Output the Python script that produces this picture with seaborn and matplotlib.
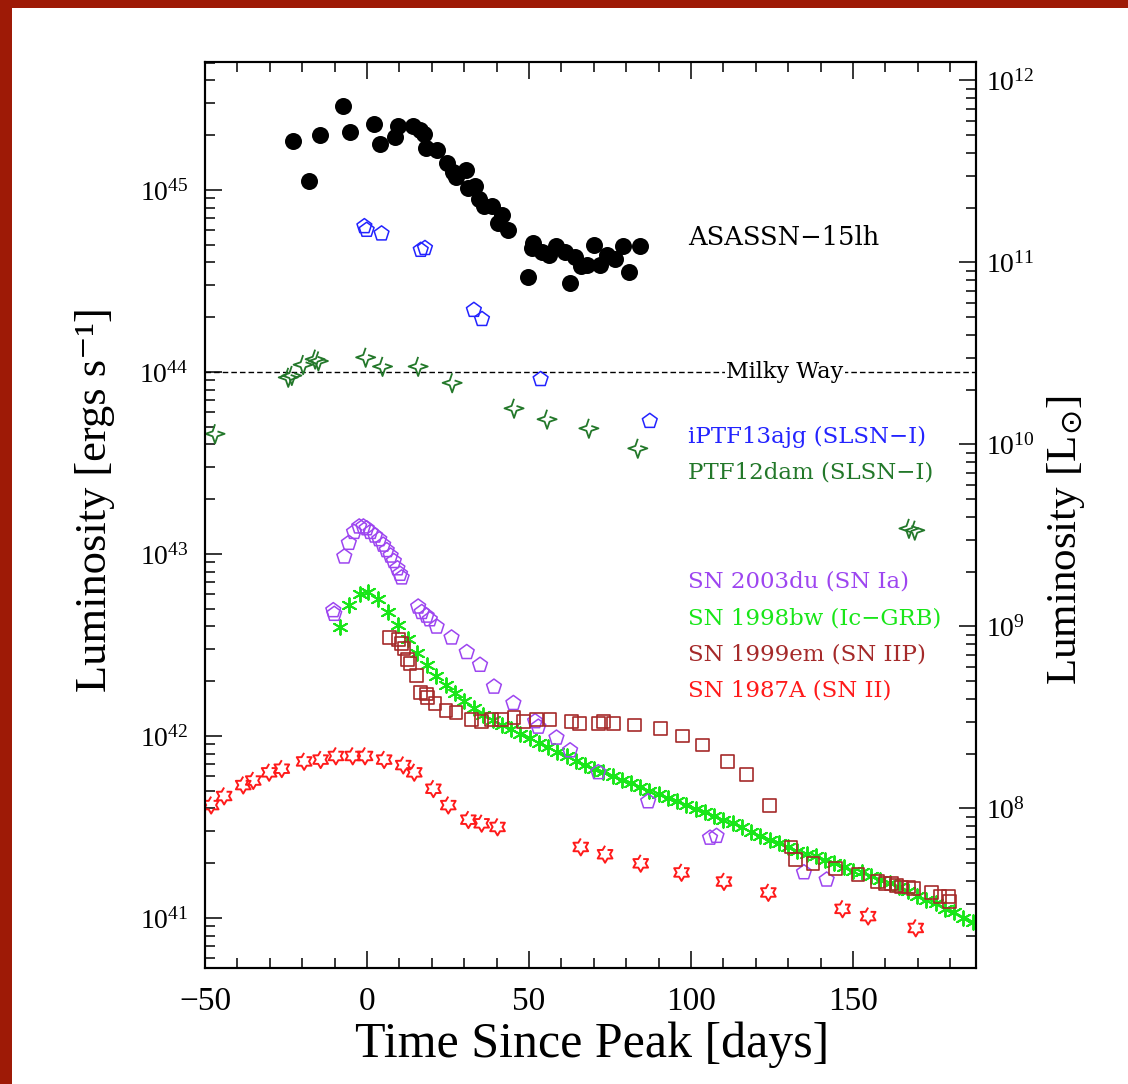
import numpy as np
import pandas as pd
import matplotlib
matplotlib.use("Agg")
import matplotlib.pyplot as plt
import seaborn as sns
from matplotlib.patches import Rectangle
from matplotlib.ticker import LogLocator, MultipleLocator, NullFormatter

# ---------------- data (time since peak [days], log10 L [erg/s]) ----------------
asassn_t = [-22.9, -17.8, -14.5, -7.5, -5.2, 2.1, 4.0, 8.7, 9.6, 14.3, 16.4, 17.5, 18.1,
            21.5, 24.8, 26.6, 27.5, 30.5, 31.1, 33.4, 34.5, 36.1, 38.6, 41.7, 40.5, 43.6,
            49.7, 51.3, 50.9, 53.9, 56.2, 58.2, 61.0, 62.7, 64.2, 66.0, 67.9, 70.1, 71.9,
            74.0, 76.5, 79.1, 81.0, 84.3]
asassn_logL = [45.27, 45.05, 45.30, 45.46, 45.32, 45.36, 45.25, 45.29, 45.35, 45.35, 45.33,
               45.31, 45.23, 45.22, 45.15, 45.10, 45.07, 45.11, 45.01, 45.02, 44.95, 44.91,
               44.91, 44.86, 44.82, 44.78, 44.52, 44.71, 44.68, 44.66, 44.64, 44.69, 44.66,
               44.49, 44.63, 44.58, 44.59, 44.70, 44.59, 44.64, 44.62, 44.69, 44.55, 44.69]

iptf_t = [-0.8, -0.1, 4.5, 16.6, 17.9, 33.0, 35.5, 53.6, 87.3]
iptf_logL = [44.80, 44.78, 44.76, 44.67, 44.68, 44.34, 44.29, 43.96, 43.73]

ptf_t = [-46.9, -24.3, -23.2, -19.7, -16.0, -15.0, -0.4, 4.8, 15.8, 26.3, 45.4, 55.6,
         68.5, 83.6, 167.3, 169.1]
ptf_logL = [43.66, 43.97, 43.98, 44.04, 44.07, 44.06, 44.08, 44.03, 44.03, 43.94, 43.80,
            43.74, 43.69, 43.58, 43.14, 43.13]

du_t = [-7.0, -5.6, -4.0, -2.4, -1.1, -0.1, 1.1, 2.5, 3.8, 5.0, 6.1, 7.3, 8.3, 9.4, 10.2,
        10.7, -10.4, -10.1, 15.8, 16.9, 18.4, 19.4, 21.5, 26.1, 30.8, 34.9, 39.2, 45.2,
        51.9, 52.9, 58.5, 62.7, 71.4, 86.8, 105.9, 107.9, 134.9, 141.9]
du_logL = [42.985, 43.06, 43.12, 43.15, 43.15, 43.14, 43.12, 43.10, 43.08, 43.05, 43.02,
           42.99, 42.96, 42.92, 42.89, 42.87, 42.69, 42.67, 42.71, 42.68, 42.66, 42.64,
           42.60, 42.54, 42.46, 42.39, 42.27, 42.18, 42.08, 42.05, 41.99, 41.92, 41.80,
           41.64, 41.44, 41.45, 41.25, 41.21]

bw_t = [-8.3, -5.5, -2.2, 0.4, 3.5, 6.4, 9.5, 12.7, 15.5, 18.4, 21.3, 24.4, 27.2, 30.0,
        33.1, 35.9, 38.8, 41.6, 44.5, 47.3, 50.2, 53.0, 55.9, 58.7, 61.6, 64.4, 67.3,
        70.1, 73.0, 75.8, 78.7, 81.5, 84.4, 87.2, 90.1, 92.9, 95.8, 98.6, 101.5, 104.3,
        107.2, 110.0, 112.9, 115.7, 118.6, 121.4, 124.3, 127.1, 130.0, 132.8, 135.7,
        138.5, 141.4, 144.2, 147.1, 149.9, 152.8, 155.6, 158.5, 161.3, 164.2, 167.0,
        169.9, 172.7, 175.6, 178.4, 181.3, 184.1, 187.0, 189.8]
bw_logL = [42.60, 42.72, 42.78, 42.79, 42.75, 42.68, 42.61, 42.53, 42.455, 42.39, 42.33,
           42.28, 42.235, 42.19, 42.155, 42.115, 42.09, 42.06, 42.04, 42.01, 41.99, 41.96,
           41.94, 41.91, 41.89, 41.86, 41.84, 41.82, 41.80, 41.78, 41.76, 41.74, 41.72,
           41.70, 41.68, 41.66, 41.64, 41.62, 41.60, 41.58, 41.56, 41.54, 41.52, 41.50,
           41.47, 41.45, 41.43, 41.41, 41.39, 41.37, 41.35, 41.34, 41.32, 41.30, 41.28,
           41.26, 41.25, 41.23, 41.21, 41.19, 41.17, 41.15, 41.12, 41.10, 41.08, 41.05,
           41.03, 41.00, 40.98, 40.96]

em_t = [6.9, 9.7, 10.7, 11.4, 12.4, 13.3, 15.3, 16.4, 18.4, 18.7, 21.0, 24.4, 27.5, 32.3,
        35.4, 38.5, 41.6, 45.4, 48.2, 52.4, 56.5, 63.2, 65.7, 71.4, 72.9, 76.0, 82.7, 90.6,
        97.3, 103.6, 111.4, 117.2, 124.2, 130.9, 132.4, 137.7, 144.7, 151.6, 157.5, 159.9,
        161.9, 163.5, 165.0, 167.1, 168.8, 174.3, 176.9, 179.4, 179.9]
em_logL = [42.54, 42.53, 42.51, 42.48, 42.42, 42.40, 42.33, 42.24, 42.23, 42.21, 42.18,
           42.14, 42.13, 42.09, 42.08, 42.09, 42.09, 42.10, 42.08, 42.09, 42.09, 42.08,
           42.07, 42.07, 42.08, 42.07, 42.06, 42.04, 42.00, 41.95, 41.86, 41.79, 41.62,
           41.39, 41.32, 41.30, 41.27, 41.24, 41.20, 41.19, 41.19, 41.18, 41.17, 41.17,
           41.16, 41.14, 41.12, 41.12, 41.09]

sn87_t = [-48.1, -44.1, -38.2, -35.1, -30.2, -26.3, -19.4, -14.3, -9.6, -4.4, -0.6, 5.3,
          11.2, 14.6, 20.5, 25.1, 31.3, 35.4, 40.3, 66.0, 73.5, 84.5, 97.1, 110.2, 123.9,
          146.8, 154.7, 169.4]
sn87_logL = [41.62, 41.67, 41.73, 41.755, 41.80, 41.82, 41.86, 41.87, 41.89, 41.89, 41.89,
             41.87, 41.84, 41.80, 41.71, 41.62, 41.54, 41.52, 41.50, 41.39, 41.35, 41.30,
             41.25, 41.20, 41.14, 41.05, 41.01, 40.945]

labels = ["ASASSN\u221215lh", "iPTF13ajg (SLSN\u2212I)", "PTF12dam (SLSN\u2212I)",
          "SN 2003du (SN Ia)", "SN 1998bw (Ic\u2212GRB)", "SN 1999em (SN IIP)",
          "SN 1987A (SN II)"]
label_logL = [44.736, 43.643, 43.445, 42.846, 42.643, 42.445, 42.247]
milky_way_logL = 44.0
LSUN = 4.0e33  # erg/s per solar luminosity (right axis)

C_BLACK, C_BLUE, C_DGREEN = "black", "#2323ff", "#23782a"
C_PURPLE, C_LIME, C_BROWN, C_RED = "#9d45f0", "#19e619", "#a52a2a", "#ff1a1a"

# ---------------- marker shapes ----------------
def star_verts(n, inner, rot=90):
    ang = np.deg2rad(rot) + np.arange(2 * n) * np.pi / n
    r = np.where(np.arange(2 * n) % 2 == 0, 1.0, inner)
    return list(zip(r * np.cos(ang), r * np.sin(ang)))

star4 = star_verts(4, 0.36)
star6 = star_verts(6, 0.58)

# ---------------- figure ----------------
sns.set_style("white")
plt.rcParams['font.family'] = ['Liberation Serif', 'DejaVu Serif']
plt.rcParams['mathtext.fontset'] = 'dejavusans'
plt.rcParams['text.color'] = 'black'
plt.rcParams['axes.labelcolor'] = 'black'
plt.rcParams['xtick.color'] = 'black'
plt.rcParams['ytick.color'] = 'black'

W, H = 1128, 1084
fig = plt.figure(figsize=(W / 100, H / 100), dpi=100)
fig.patch.set_facecolor('#9e1a06')
fig.patches.append(Rectangle((12 / W, 0), 1 - 12 / W, 1 - 8 / H, transform=fig.transFigure,
                             facecolor='white', edgecolor='none', zorder=-5))
ax = fig.add_axes([205 / W, 1 - 968 / H, (976 - 205) / W, (968 - 62) / H])

def frame(t, logL):
    return pd.DataFrame({"t": t, "L": np.power(10.0, logL)})

sns.scatterplot(data=frame(bw_t, bw_logL), x="t", y="L", ax=ax, marker=(6, 2, 0), s=110,
                color=C_LIME, edgecolor=C_LIME, linewidth=1.4, zorder=3)
sns.scatterplot(data=frame(du_t, du_logL), x="t", y="L", ax=ax, marker="p", s=125,
                facecolor="none", edgecolor=C_PURPLE, linewidth=1.1, zorder=4)
sns.scatterplot(data=frame(em_t, em_logL), x="t", y="L", ax=ax, marker="s", s=85,
                facecolor="none", edgecolor=C_BROWN, linewidth=1.2, zorder=5)
sns.scatterplot(data=frame(sn87_t, sn87_logL), x="t", y="L", ax=ax, marker=star6, s=150,
                facecolor="none", edgecolor=C_RED, linewidth=1.4, zorder=5)
sns.scatterplot(data=frame(ptf_t, ptf_logL), x="t", y="L", ax=ax, marker=star4, s=190,
                facecolor="none", edgecolor=C_DGREEN, linewidth=1.3, zorder=5)
sns.scatterplot(data=frame(iptf_t, iptf_logL), x="t", y="L", ax=ax, marker="p", s=125,
                facecolor="none", edgecolor=C_BLUE, linewidth=1.1, zorder=5)
sns.scatterplot(data=frame(asassn_t, asassn_logL), x="t", y="L", ax=ax, marker="o", s=150,
                color=C_BLACK, edgecolor=C_BLACK, linewidth=0, zorder=6)

ax.axhline(10 ** milky_way_logL, color="black", lw=1.0, ls=(0, (4, 2.2)), zorder=2)
ax.text(129, 10 ** milky_way_logL, "Milky Way", family="DejaVu Serif", fontsize=16,
        ha="center", va="center", zorder=7,
        bbox=dict(facecolor="white", edgecolor="none", pad=1.0))

label_colors = [C_BLACK, C_BLUE, C_DGREEN, C_PURPLE, C_LIME, C_BROWN, C_RED]
for i, (txt, ly, col) in enumerate(zip(labels, label_logL, label_colors)):
    ax.text(99.1, 10 ** ly, txt, color=col, family="DejaVu Serif",
            fontsize=18.5 if i == 0 else 16.5, ha="left", va="center", zorder=7)

ax.set_xlim(-50, 188)
ax.set_yscale("log")
ylo, yhi = 10 ** 40.725, 10 ** 45.703
ax.set_ylim(ylo, yhi)
ax.xaxis.set_major_locator(MultipleLocator(50))
ax.xaxis.set_minor_locator(MultipleLocator(10))
ax.yaxis.set_major_locator(LogLocator(base=10))
ax.yaxis.set_minor_locator(LogLocator(base=10, subs=np.arange(2, 10)))
ax.yaxis.set_minor_formatter(NullFormatter())
ax.set_xlabel("")
ax.set_ylabel("")

for sp in ax.spines.values():
    sp.set_linewidth(1.5)
    sp.set_color("black")
ax.tick_params(axis="both", which="both", direction="in", colors="black", width=1.1,
               top=True, bottom=True, left=True, right=False)
ax.tick_params(axis="both", which="major", length=12.5)
ax.tick_params(axis="both", which="minor", length=7)
ax.tick_params(axis="x", which="major", labelsize=24, pad=13)
ax.tick_params(axis="y", which="major", labelsize=20, pad=12)

ax2 = ax.twinx()
ax2.set_yscale("log")
ax2.set_ylim(ylo / LSUN, yhi / LSUN)
ax2.yaxis.set_major_locator(LogLocator(base=10))
ax2.yaxis.set_minor_locator(LogLocator(base=10, subs=np.arange(2, 10)))
ax2.yaxis.set_minor_formatter(NullFormatter())
for sp in ax2.spines.values():
    sp.set_linewidth(1.5)
    sp.set_color("black")
ax2.tick_params(axis="y", which="both", direction="in", width=1.1, colors="black",
                left=False, right=True)
ax2.tick_params(axis="y", which="major", length=12.5, labelsize=20, pad=7)
ax2.tick_params(axis="y", which="minor", length=7)
ax2.grid(False)
ax.grid(False)

fig.text(95 / W, 1 - 500 / H, "Luminosity [ergs s\u207b\u00b9]", rotation=90, fontsize=32,
         ha="center", va="center")
fig.text(1066 / W, 1 - 540 / H, r"Luminosity [L$_{\odot}$]", rotation=90, fontsize=31,
         ha="center", va="center")
fig.text(592 / W, 1 - 1045 / H, "Time Since Peak [days]", fontsize=36,
         ha="center", va="center")

fig.savefig("out.png", dpi=100, facecolor=fig.get_facecolor())
